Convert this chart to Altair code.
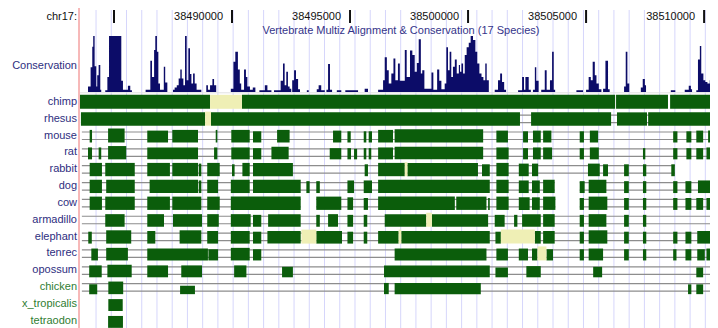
import altair as alt
import pandas as pd

# ---------------- data (positions in kb, offset from chr17:38,480,000) ----------------
WINDOW = [0.51, 30.25]
TICK_KB = [5, 10, 15, 20, 25, 30]
TICK_LABELS = ["", "38490000", "38495000", "38500000", "38505000", "38510000"]

SPECIES = ["chimp", "rhesus", "mouse", "rat", "rabbit", "dog", "cow", "armadillo",
           "elephant", "tenrec", "opossum", "chicken", "x_tropicalis", "tetraodon"]
NONMAMMAL = ["chicken", "x_tropicalis", "tetraodon"]

CONS_POS = [3.56, 3.90, 4.01, 4.08, 4.12, 4.18, 4.25, 4.29, 4.35, 4.42, 4.46,
            4.63, 4.72, 4.79, 5.31, 5.38, 5.59, 5.69, 5.76,
            6.34, 6.54, 6.61, 6.70, 6.75, 6.82, 6.88, 6.95, 7.11, 7.17, 7.26,
            7.50, 7.57, 7.66, 7.74, 7.81, 7.87, 7.94, 8.01, 8.08, 8.15, 8.22, 8.28, 8.35, 8.42, 8.50, 8.70,
            8.91, 8.98, 9.07, 9.17, 9.24, 9.33,
            9.95, 10.06, 10.14, 10.25, 10.33, 10.39, 10.51, 10.59, 10.65, 10.76, 10.88, 10.99,
            11.16, 11.39, 11.50, 11.67,
            11.78, 12.06, 12.16, 12.23, 12.30, 12.37, 12.44, 12.51, 12.55, 12.63, 12.71, 12.80, 12.88,
            13.17, 13.25, 13.59, 13.67, 13.78, 13.93, 14.00, 14.07, 14.15, 14.24,
            14.44, 14.63, 14.80, 15.34, 15.62, 15.76,
            16.19, 16.40, 16.47, 16.56, 16.64, 16.75, 16.84, 16.92,
            17.03, 17.11, 17.32, 17.40, 17.54, 17.64, 17.74, 17.83, 17.91, 18.00, 18.06, 18.15,
            18.45, 18.53, 18.69, 18.78, 18.87, 19.01, 19.08, 19.15, 19.22, 19.29, 19.36, 19.44, 19.52,
            19.61, 19.66, 19.72, 19.79, 19.86, 19.94, 20.03, 20.11, 20.21, 20.31, 20.39, 20.48, 20.57,
            20.65, 20.73, 20.79, 20.88,
            21.13, 21.27, 21.36, 21.44, 21.53, 21.61,
            22.12, 22.29, 22.37, 22.43, 22.57, 22.66, 22.75, 22.83, 22.89, 22.99,
            23.10, 23.25, 23.33, 23.47, 23.56, 23.63, 23.69,
            24.59, 24.87, 25.00, 25.11, 25.20, 25.28, 25.37, 25.44, 25.54, 25.65,
            25.72, 25.82, 25.93, 26.00, 26.61, 26.68, 26.75, 26.83,
            27.32, 27.40, 27.49, 27.54, 28.59, 28.78, 29.18, 29.35, 29.44, 29.49,
            29.67, 29.74, 29.82, 29.88, 29.97, 30.05, 30.14, 30.24, 30.31, 30.38, 30.45, 30.52, 30.59]
CONS_SCORE = [0, 0.10, 0.44, 0.81, 1.0, 0.46, 0.10, 0.30, 0.48, 0.04, 0,
              0.03, 0.27, 1.0, 0.20, 0.04, 0.11, 0.03, 0,
              0.04, 0.56, 0.27, 0.75, 1.0, 0.72, 0.15, 0.04, 0.45, 0.17, 0,
              0.04, 0.08, 0.12, 0.24, 0.40, 0.24, 0.12, 1.0, 0.21, 0.78, 0.32, 0.15, 0.33, 0.15, 0.04, 0,
              0.12, 0.04, 0.12, 0.23, 0.12, 0,
              0.06, 0.54, 0.72, 0.40, 0.15, 0.04, 0.40, 0.27, 0.10, 0.04, 0.08, 0,
              0.03, 0.12, 0.03, 0,
              0.03, 0.20, 0.51, 0.12, 0.36, 0.10, 0.06, 0, 0.21, 0.39, 0.23, 0.05, 0,
              0.03, 0, 0.05, 0.12, 0.03, 0, 0.04, 0.50, 0.04, 0,
              0.03, 0, 0.03, 0, 0.06, 0,
              0.04, 0.21, 0.62, 0.39, 0.15, 0.33, 0.60, 0.21,
              0.51, 0.20, 0.75, 0.27, 0.74, 0.66, 0.36, 0.52, 0.94, 0.33, 0.39, 0.06,
              0.35, 0.04, 0.40, 0.20, 0.05, 0.15, 0.80, 0.39, 0.72, 0.27, 0.45, 0.58, 0.33,
              0.48, 0.36, 0.51, 0.33, 0.66, 0.80, 0.88, 1.0, 0.93, 0.72, 0.51, 0.33, 0.27,
              0.21, 0.51, 0.21, 0,
              0.04, 0.21, 0.33, 0.18, 0.04, 0,
              0.03, 0.27, 0.04, 0.27, 0.04, 0, 0.04, 0.44, 0.20, 0,
              0.04, 0.39, 0.04, 0.21, 0.72, 0.04, 0,
              0.03, 0, 0.04, 0.27, 0.21, 0.54, 0.30, 0.15, 0.05, 0,
              0.06, 0.56, 0.05, 0, 0.10, 0.72, 0.15, 0,
              0.08, 0.23, 0.12, 0, 0.03, 0, 0.04, 0.11, 0.05, 0,
              0.03, 0.58, 0.82, 0.33, 0.21, 0.18, 0.15, 0.21, 0.27, 0.66, 0.72, 0.27, 0.27]

# aligned blocks: (start kb, end kb, relative height)
ALIGNED = {
    "chimp": [(3.56, 9.07, 1.0), (10.42, 26.23, 1.0), (26.27, 28.47, 1.0), (28.56, 30.59, 1.0)],
    "rhesus": [(3.60, 8.86, 0.95), (9.11, 22.20, 0.95), (22.67, 26.06, 0.95), (26.31, 27.58, 0.95),
               (27.63, 30.59, 0.95)],
    "mouse": [(3.97, 4.07, 0.9), (4.75, 5.45, 1.0), (6.41, 7.29, 0.85), (7.47, 8.56, 0.9),
              (9.31, 9.38, 0.9), (9.97, 10.75, 0.9), (10.89, 11.24, 0.8), (11.91, 12.44, 0.9),
              (14.28, 14.63, 0.85), (14.89, 15.03, 0.8), (15.58, 15.69, 0.8), (15.79, 15.93, 0.8),
              (16.19, 16.82, 0.9), (16.89, 20.64, 0.95), (21.20, 21.69, 0.85), (22.33, 22.54, 0.8),
              (22.75, 23.08, 0.85), (23.18, 23.53, 0.85), (24.73, 24.91, 0.8), (25.16, 25.51, 0.85),
              (28.69, 28.87, 0.8), (29.25, 29.46, 0.8), (29.67, 29.96, 0.85), (30.17, 30.59, 0.85)],
    "rat": [(3.90, 4.07, 0.85), (4.35, 4.46, 0.85), (4.75, 5.52, 0.95), (6.41, 8.56, 0.85),
            (9.24, 9.38, 0.85), (9.97, 10.75, 0.85), (10.89, 11.24, 0.8), (11.67, 12.40, 0.9),
            (14.14, 14.63, 0.8), (14.89, 15.04, 0.8), (15.17, 15.30, 0.75), (15.58, 15.69, 0.8),
            (15.79, 15.90, 0.8), (16.19, 16.82, 0.85), (16.89, 20.64, 0.9), (21.20, 21.72, 0.85),
            (22.33, 22.54, 0.8), (22.75, 23.08, 0.85), (23.18, 23.56, 0.85), (24.73, 24.91, 0.8),
            (25.16, 25.54, 0.85), (27.41, 27.51, 0.8), (28.69, 28.87, 0.8), (29.25, 29.46, 0.8),
            (29.67, 29.96, 0.8), (30.10, 30.59, 0.85)],
    "rabbit": [(3.97, 4.49, 0.95), (4.63, 5.88, 0.95), (6.41, 7.37, 0.95), (7.47, 8.56, 0.95),
               (8.59, 8.70, 0.9), (8.95, 9.48, 0.95), (10.00, 10.11, 0.85), (10.44, 10.75, 0.95),
               (10.89, 12.58, 0.95), (15.62, 15.76, 0.85), (16.19, 17.32, 0.95), (17.43, 20.42, 0.95),
               (20.59, 20.92, 0.85), (21.20, 21.72, 0.95), (22.15, 22.57, 0.9), (22.71, 22.97, 0.9),
               (25.08, 25.58, 0.9), (25.72, 25.93, 0.85), (26.61, 26.81, 0.85), (27.41, 27.55, 0.85),
               (28.61, 28.76, 0.85)],
    "dog": [(3.97, 4.49, 0.95), (4.67, 5.88, 0.95), (6.51, 8.56, 0.95), (8.59, 8.70, 0.9),
            (8.95, 9.41, 0.95), (9.95, 10.75, 0.95), (10.89, 12.91, 0.95), (13.15, 13.29, 0.85),
            (13.57, 13.72, 0.85), (14.89, 15.17, 0.9), (15.58, 15.93, 0.9), (16.19, 20.92, 0.95),
            (21.20, 21.72, 0.95), (22.15, 22.57, 0.9), (22.71, 23.04, 0.9), (23.18, 23.67, 0.95),
            (24.73, 24.94, 0.85), (25.11, 25.86, 0.95), (26.61, 26.81, 0.85), (27.41, 27.55, 0.85),
            (28.69, 28.87, 0.85), (29.21, 29.46, 0.85), (29.74, 30.59, 0.9)],
    "cow": [(3.97, 4.49, 0.95), (4.63, 5.88, 0.95), (6.41, 7.37, 0.95), (7.47, 8.70, 0.95),
            (8.95, 9.48, 0.95), (9.95, 12.91, 0.95), (13.57, 14.63, 0.95), (14.89, 15.13, 0.9),
            (15.58, 15.76, 0.85), (16.19, 19.44, 0.95), (19.50, 20.78, 0.95), (20.85, 20.92, 0.85),
            (21.20, 21.72, 0.95), (22.15, 22.61, 0.9), (22.71, 23.04, 0.9), (23.18, 23.70, 0.95),
            (24.73, 24.91, 0.85), (25.11, 25.90, 0.95), (26.61, 26.81, 0.85), (27.41, 27.55, 0.85),
            (28.69, 28.87, 0.85), (29.21, 29.46, 0.85), (29.67, 29.96, 0.85), (30.10, 30.38, 0.85)],
    "armadillo": [(4.63, 5.45, 0.9), (6.41, 7.12, 0.9), (7.50, 8.73, 0.9), (8.95, 9.44, 0.9),
                  (9.95, 10.79, 0.9), (10.89, 11.24, 0.85), (11.53, 12.91, 0.9), (13.57, 13.72, 0.85),
                  (14.07, 14.49, 0.9), (14.89, 15.13, 0.85), (15.58, 15.73, 0.85), (16.47, 18.23, 0.9),
                  (18.47, 20.85, 0.9), (21.13, 21.55, 0.85), (21.95, 22.09, 0.85), (22.29, 23.08, 0.9),
                  (23.18, 23.67, 0.9), (24.73, 24.91, 0.85), (25.11, 25.86, 0.9), (26.61, 26.81, 0.85),
                  (27.41, 27.55, 0.85), (30.28, 30.59, 0.9)],
    "elephant": [(3.91, 4.06, 0.85), (4.67, 5.73, 0.95), (6.41, 6.75, 0.9), (7.78, 8.70, 0.95),
                 (8.95, 9.41, 0.9), (9.95, 10.75, 0.9), (10.89, 11.24, 0.85), (11.50, 12.91, 0.9),
                 (13.57, 14.66, 0.9), (14.89, 15.13, 0.85), (15.58, 15.73, 0.85), (16.19, 17.06, 0.9),
                 (17.17, 20.92, 0.9), (21.16, 21.39, 0.85), (22.83, 23.08, 0.9), (23.18, 23.67, 0.9),
                 (24.73, 24.91, 0.85), (25.11, 25.90, 0.95), (26.61, 26.81, 0.85), (27.41, 27.55, 0.85),
                 (28.69, 28.87, 0.85), (29.21, 29.46, 0.85), (29.71, 30.59, 0.9)],
    "tenrec": [(4.04, 4.32, 0.85), (4.67, 5.59, 0.9), (6.41, 8.98, 0.85), (9.00, 9.41, 0.8),
               (9.95, 10.75, 0.9), (10.89, 11.24, 0.8), (16.89, 20.78, 0.85), (21.20, 21.69, 0.85),
               (22.15, 22.54, 0.85), (22.71, 22.94, 0.85), (23.32, 23.60, 0.8), (24.73, 24.91, 0.8),
               (25.11, 25.72, 0.85), (26.61, 26.81, 0.8), (27.41, 27.55, 0.8), (28.69, 28.83, 0.8),
               (29.21, 29.46, 0.8), (29.71, 30.03, 0.8), (30.10, 30.59, 0.85)],
    "opossum": [(3.95, 4.48, 0.85), (4.72, 5.75, 0.9), (6.41, 7.29, 0.85), (7.85, 8.73, 0.85),
                (10.09, 10.61, 0.85), (12.12, 12.58, 0.75), (16.44, 20.92, 0.85), (21.16, 21.69, 0.7),
                (22.47, 23.08, 0.8), (25.30, 25.68, 0.75), (29.67, 29.96, 0.7), (30.31, 30.59, 0.75)],
    "chicken": [(3.95, 4.29, 0.7), (4.76, 5.39, 0.9), (7.80, 8.43, 0.6), (16.44, 16.64, 0.8),
                (16.89, 20.54, 0.8), (29.32, 29.46, 0.7), (29.67, 29.96, 0.7)],
    "x_tropicalis": [(4.76, 5.37, 0.85)],
    "tetraodon": [(4.75, 5.38, 0.85)],
}

# unaligned / double-aligned regions drawn pale yellow
PALE = {
    "chimp": [(9.07, 10.42)],
    "rhesus": [(8.86, 9.11)],
    "rabbit": [(17.32, 17.43)],
    "armadillo": [(18.23, 18.47)],
    "elephant": [(12.94, 13.57), (17.06, 17.17), (21.39, 22.83)],
    "tenrec": [(22.94, 23.32)],
}

# gap (double line) extents
GAPLINES = {
    "rhesus": [(3.60, 30.59)],
    "mouse": [(3.64, 30.59)],
    "rat": [(3.64, 30.59)],
    "rabbit": [(3.64, 28.76)],
    "dog": [(3.64, 23.67), (24.73, 30.59)],
    "cow": [(3.64, 12.91), (13.57, 23.70), (24.73, 30.59)],
    "armadillo": [(3.64, 30.59)],
    "elephant": [(3.64, 30.59)],
    "tenrec": [(3.64, 30.59)],
    "opossum": [(3.64, 30.59)],
    "chicken": [(3.64, 30.59)],
}

# ---------------- layout ----------------
ROW0, PITCH, HALF = 101.8, 16.85, 7.0
GREEN = "#0b5d0b"
PALE_COL = "#efefb5"
NAVY = "#0c0c68"
LABEL_NAVY = "#2e2e80"
LABEL_GREEN = "#2f7d32"
FONT = "Liberation Sans"

X = alt.Scale(domain=WINDOW, nice=False, zero=False)
LY = alt.Scale(domain=[8, 328], reverse=True, nice=False, zero=False)


def center(sp):
    return ROW0 + PITCH * SPECIES.index(sp)


blocks = pd.DataFrame([
    dict(species=sp, start=s, end=e, top=center(sp) + HALF - 2 * HALF * h, bottom=center(sp) + HALF)
    for sp, lst in ALIGNED.items() for s, e, h in lst])
pale = pd.DataFrame([
    dict(species=sp, start=s, end=e, top=center(sp) - HALF, bottom=center(sp) + HALF)
    for sp, lst in PALE.items() for s, e in lst])
lines = pd.DataFrame([
    dict(species=sp, start=s, end=e, y=center(sp) + off)
    for sp, lst in GAPLINES.items() for s, e in lst for off in (-3.5, 4.0)])
labels = pd.DataFrame(dict(species=SPECIES, y=[center(s) for s in SPECIES],
                           group=["other" if s in NONMAMMAL else "mammal" for s in SPECIES]))
cons = pd.DataFrame(dict(pos=CONS_POS, score=CONS_SCORE))
ticks = pd.DataFrame(dict(pos=TICK_KB, label=TICK_LABELS))
guides = pd.DataFrame(dict(pos=[4.24 + 0.6453 * k for k in range(41)]))

guide_layer = alt.Chart(guides).mark_rule(color="#d6d6fb", strokeWidth=1).encode(
    x=alt.X("pos:Q", scale=X, axis=None), y=alt.value(2), y2=alt.value(320))

pink = alt.Chart(guides).mark_rule(color="#f6b8b8", strokeWidth=1).encode(
    x=alt.value(71), y=alt.value(0), y2=alt.value(320))

cons_base = alt.Chart(pd.DataFrame(dict(a=[3.56], b=[30.59], y=[92.8]))).mark_rule(
    color="#e2e2e2", strokeWidth=1).encode(
    x=alt.X("a:Q", scale=X, axis=None), x2="b:Q", y=alt.Y("y:Q", scale=LY, axis=None))

cons_layer = alt.Chart(cons).mark_area(interpolate="step-after", color=NAVY).encode(
    x=alt.X("pos:Q", scale=X, axis=None),
    y=alt.Y("score:Q", scale=alt.Scale(domain=[0, 1], range=[84, 28]), axis=None),
    y2=alt.datum(0))

line_layer = alt.Chart(lines).mark_rule(color="#8d8d8d", strokeWidth=1.2).encode(
    x=alt.X("start:Q", scale=X, axis=None), x2="end:Q",
    y=alt.Y("y:Q", scale=LY, axis=None))

block_layer = alt.Chart(blocks).mark_rect(color=GREEN).encode(
    x=alt.X("start:Q", scale=X, axis=None), x2="end:Q",
    y=alt.Y("top:Q", scale=LY, axis=None), y2="bottom:Q")

pale_layer = alt.Chart(pale).mark_rect(color=PALE_COL).encode(
    x=alt.X("start:Q", scale=X, axis=None), x2="end:Q",
    y=alt.Y("top:Q", scale=LY, axis=None), y2="bottom:Q")

tick_layer = alt.Chart(ticks).mark_rule(color="#111111", strokeWidth=2).encode(
    x=alt.X("pos:Q", scale=X, axis=None), y=alt.value(2), y2=alt.value(15))

tick_text = alt.Chart(ticks).mark_text(align="right", baseline="middle", dx=-9,
                                       font=FONT, fontSize=11, color="#111111").encode(
    x=alt.X("pos:Q", scale=X, axis=None), y=alt.value(9), text="label:N")

chr_text = alt.Chart(pd.DataFrame(dict(t=["chr17:"]))).mark_text(
    align="right", baseline="middle", font=FONT, fontSize=11, color="#111111").encode(
    x=alt.value(69), y=alt.value(9), text="t:N")

title_text = alt.Chart(pd.DataFrame(dict(t=["Vertebrate Multiz Alignment & Conservation (17 Species)"]))).mark_text(
    align="center", baseline="middle", font=FONT, fontSize=11, color="#34348a").encode(
    x=alt.value(393), y=alt.value(23), text="t:N")

cons_label = alt.Chart(pd.DataFrame(dict(t=["Conservation"]))).mark_text(
    align="right", baseline="middle", font=FONT, fontSize=11, color=LABEL_NAVY).encode(
    x=alt.value(69), y=alt.value(58), text="t:N")

mammal_labels = alt.Chart(labels).transform_filter("datum.group == 'mammal'").mark_text(
    align="right", baseline="middle", font=FONT, fontSize=11, color=LABEL_NAVY).encode(
    x=alt.value(69), y=alt.Y("y:Q", scale=LY, axis=None), text="species:N")

other_labels = alt.Chart(labels).transform_filter("datum.group == 'other'").mark_text(
    align="right", baseline="middle", font=FONT, fontSize=11, color=LABEL_GREEN).encode(
    x=alt.value(69), y=alt.Y("y:Q", scale=LY, axis=None), text="species:N")

chart = alt.layer(
    guide_layer, pink, cons_base, cons_layer, line_layer, block_layer, pale_layer,
    tick_layer, tick_text, chr_text, title_text, cons_label, mammal_labels, other_labels,
).resolve_scale(y="independent").properties(
    width=702, height=320, padding=0,
    autosize=alt.AutoSizeParams(type="none"),
    background="white",
).configure_view(stroke=None)

chart.save("out.html", embed_options={"renderer": "svg", "actions": False})
